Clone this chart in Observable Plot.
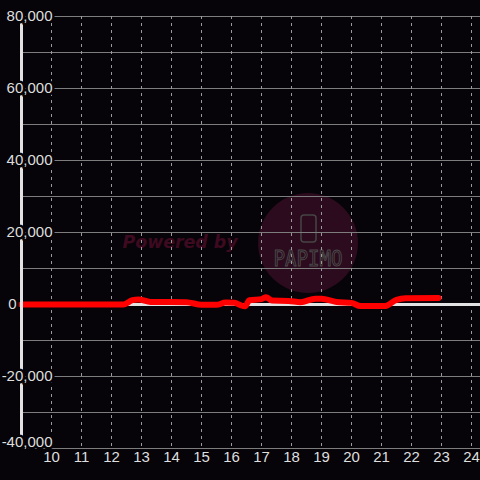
<!DOCTYPE html>
<html><head><meta charset="utf-8">
<script src="https://cdn.jsdelivr.net/npm/d3@7"></script>
<script src="https://cdn.jsdelivr.net/npm/@observablehq/plot@0.6"></script>
<style>
html,body{margin:0;padding:0;background:#060408;}
#wrap{position:relative;width:480px;height:480px;overflow:hidden;}
#wm{position:absolute;left:0;top:0;}
#chart{position:absolute;left:0;top:0;}
</style></head><body>
<div id="wrap">
<svg id="wm" width="480" height="480">
 <circle cx="308" cy="243" r="50" fill="#2b0b1d"/>
 <text x="180" y="248" text-anchor="middle" font-family="DejaVu Sans" font-weight="bold" font-style="italic" font-size="18" fill="#3d0a20" textLength="115" lengthAdjust="spacingAndGlyphs">Powered by</text>
 <rect x="301" y="215" width="15" height="27" rx="3" fill="none" stroke="#454545" stroke-width="1.5"/>
 <text x="308" y="266" text-anchor="middle" font-family="DejaVu Sans Mono" font-size="21" fill="none" stroke="#4a4a4a" stroke-width="1" textLength="69" lengthAdjust="spacingAndGlyphs">PAPIMO</text>
</svg>
<div id="chart"></div>
</div>
<script>
const hours = [9.0, 12.4, 12.7, 12.9, 13.3, 14.5, 15.0, 15.5, 15.8, 16.1, 16.3, 16.45, 16.6, 17.0, 17.15, 17.35, 17.9, 18.3, 18.8, 19.0, 19.5, 20.0, 20.3, 21.1, 21.5, 21.8, 22.9];
const power = [0, 0, 1200, 1400, 700, 650, -100, -100, 550, 500, -200, -500, 1200, 1500, 2000, 1100, 1000, 650, 1600, 1600, 700, 450, -450, -450, 1300, 1750, 1800];
const xTicks = [10, 11, 12, 13, 14, 15, 16, 17, 18, 19, 20, 21, 22, 23, 24];
const yTicks = [-20000, 20000, 40000, 60000, 80000];
const yBottom = [-40000];
const yZero = [0];
const yMinor = [-30000, -10000, 10000, 30000, 50000, 70000];

const data = hours.map((h, i) => ({h, v: power[i]}));
const fmt0 = d3.format(",");
const fmt = d => fmt0(d).replace("\u2212", "-");
const bg = "#060408";
const txt = "#dedede";
const labelOpts = {y: d => d, text: d => fmt(d), frameAnchor: "left", textAnchor: "end", fill: txt, stroke: bg, strokeWidth: 5, paintOrder: "stroke"};

const plot = Plot.plot({
  width: 480, height: 480,
  marginLeft: 21, marginRight: 0, marginTop: 16, marginBottom: 32,
  style: {background: "transparent", fontFamily: "'Liberation Sans', Arial, sans-serif", fontSize: "15px", color: txt},
  x: {domain: [9, 24.3], axis: null},
  y: {domain: [-40000, 80000], axis: null},
  marks: [
    Plot.ruleY(yMinor, {stroke: "#7d7d7d", strokeWidth: 1}),
    Plot.ruleY([...yTicks, ...yBottom], {stroke: "#7d7d7d", strokeWidth: 1}),
    Plot.ruleX(xTicks, {stroke: "#9a9a9a", strokeDasharray: "3,4"}),
    Plot.ruleY(yZero, {stroke: "#e2e2e2", strokeWidth: 3}),
    Plot.line(data, {x: "h", y: "v", stroke: "#ff0000", strokeWidth: 6, strokeLinejoin: "round", curve: "monotone-x"}),
    Plot.ruleX([9], {stroke: "#e2e2e2", strokeWidth: 3}),
    Plot.text(yTicks, {...labelOpts, dx: 31}),
    Plot.text(yBottom, {...labelOpts, dx: 31, dy: -6}),
    Plot.text(yZero, {...labelOpts, dx: -5}),
    Plot.text(xTicks, {x: d => d, text: d => String(d), frameAnchor: "bottom", dy: 13, fill: txt})
  ]
});
document.getElementById("chart").appendChild(plot);
</script>
</body></html>
